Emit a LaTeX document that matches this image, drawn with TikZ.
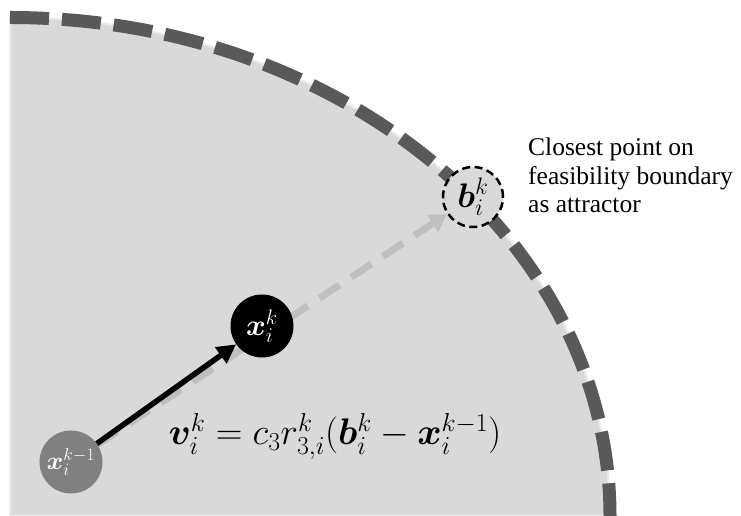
\RequirePackage{fix-cm}
\documentclass[tikz,border=0pt]{standalone}
\usepackage{fontspec}
\setmainfont{Liberation Serif}
\usepackage{bm}
\usetikzlibrary{arrows.meta,backgrounds}

\definecolor{regiongray}{HTML}{D9D9D9}
\definecolor{boundgray}{HTML}{595959}
\definecolor{prevgray}{HTML}{808080}
\definecolor{attractgray}{HTML}{BFBFBF}

\begin{document}
\begin{tikzpicture}[x=1pt, y=1pt,
    every node/.style={align=center},
    particle/.style={circle, inner sep=0pt, minimum size=63pt, text=white,
                     font=\fontsize{30}{34}\selectfont},
    target/.style={circle, inner sep=0pt, minimum size=60pt, fill=regiongray,
                   draw=black, line width=2.5pt, dash pattern=on 8pt off 4.5pt,
                   font=\fontsize{34}{38}\selectfont},
    boundary/.style={boundgray, line width=13pt, dash pattern=on 39pt off 13pt},
    attract/.style={attractgray, line width=7pt, dash pattern=on 24pt off 14pt,
                    -{Triangle[length=17pt, width=19pt]}},
    vecarrow/.style={black, line width=5.5pt, -{Triangle[length=19pt, width=19pt]}},
]
    \useasboundingbox (0,0) rectangle (741,516);

    % particles and attractor
    \node[particle, fill=prevgray, font=\fontsize{25}{29}\selectfont] (xprev) at (71,54) {$\bm{x}_i^{k-1}$};
    \node[particle, fill=black] (xk) at (262,190) {$\bm{x}_i^k$};
    \node[target] (b) at (473,319) {$\bm{b}_i^k$};

    % feasible region and its boundary
    \begin{scope}[on background layer]
        \fill[regiongray, draw=black!8, line width=2pt] (10,0) -- (10,498.5)
            arc[start angle=90, end angle=0, x radius=600, y radius=498.5] -- cycle;
        \draw[boundary] (10,498.5)
            arc[start angle=90, end angle=0, x radius=600, y radius=498.5];
        \draw[attract] (xprev) -- (b);
    \end{scope}

    \draw[vecarrow] (xprev) -- (xk);

    \node[anchor=base, font=\fontsize{37}{41}\selectfont] (eq) at (335,71)
        {$\bm{v}_i^k = c_3 r_{3,i}^k\bigl(\bm{b}_i^k - \bm{x}_i^{k-1}\bigr)$};
    \node[anchor=north west, align=left, inner sep=0pt,
          font=\fontsize{25.5}{28.5}\selectfont] (note) at (528,378)
        {Closest point on\\ feasibility boundary\\ as attractor};
\end{tikzpicture}
\end{document}
